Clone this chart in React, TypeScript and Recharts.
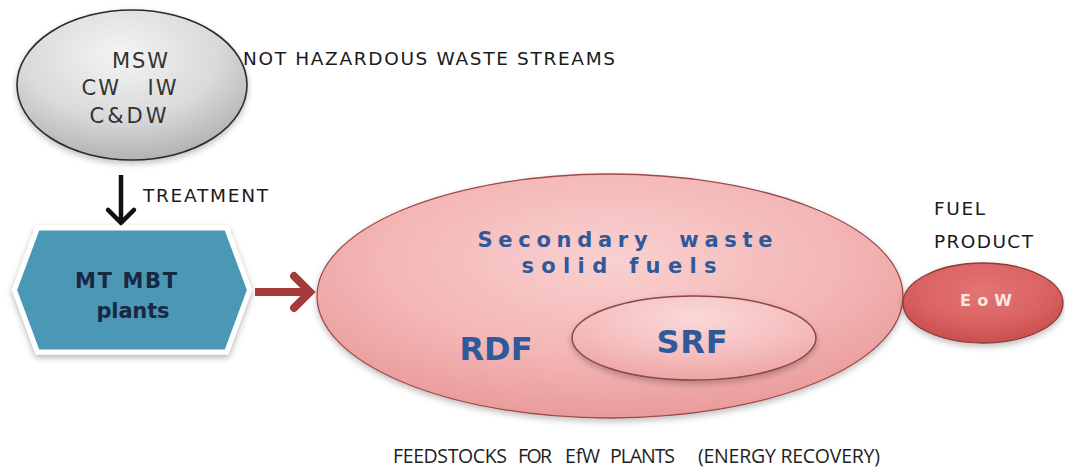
import React from 'react';
import { ScatterChart, Scatter, XAxis, YAxis } from 'recharts';

const W = 1065;
const H = 470;

// Diagram nodes (centres in diagram units; the axes map 1 unit to 1 px)
const ellipses = [
  { name: 'waste', x: 132, y: 85, rx: 115, ry: 75 },
  { name: 'feedstock', x: 610, y: 296, rx: 293, ry: 122 },
  { name: 'srf', x: 694, y: 338, rx: 122, ry: 42 },
  { name: 'eow', x: 983, y: 303, rx: 80, ry: 40 },
];

const hexagons = [{ name: 'plants', x: 132, y: 290, w: 235, h: 124, bevel: 23 }];

const arrows = [
  { name: 'treatment', x: 121, y: 175, x2: 121, y2: 225 },
  { name: 'feed', x: 255, y: 292, x2: 314, y2: 292 },
];

// Text labels: x is anchor position, y is baseline
const labels = [
  { text: 'MSW', x: 140, y: 68, kind: 'waste', len: 56 },
  { text: 'CW   IW', x: 129, y: 95, kind: 'waste', len: 95 },
  { text: 'C&DW', x: 128, y: 123, kind: 'waste', len: 77 },
  { text: 'NOT HAZARDOUS WASTE STREAMS', x: 243, y: 65, kind: 'head', len: 372 },
  { text: 'TREATMENT', x: 143, y: 202, kind: 'head', len: 125 },
  { text: 'MT MBT', x: 126, y: 288, kind: 'plant', len: 102 },
  { text: 'plants', x: 133, y: 318, kind: 'plant', len: 73 },
  { text: 'Secondary  waste', x: 625, y: 247, kind: 'fuel', len: 295 },
  { text: 'solid fuels', x: 619, y: 273, kind: 'fuel', len: 195 },
  { text: 'RDF', x: 496, y: 360, kind: 'big', len: 73 },
  { text: 'SRF', x: 692, y: 353, kind: 'big', len: 71 },
  { text: 'E o W', x: 986, y: 306, kind: 'eow', len: 52 },
  { text: 'FUEL', x: 934, y: 215, kind: 'head', len: 51 },
  { text: 'PRODUCT', x: 934, y: 248, kind: 'head', len: 99 },
  { text: 'FEEDSTOCKS', x: 393, y: 463, kind: 'note', len: 114 },
  { text: 'FOR', x: 518, y: 463, kind: 'note', len: 34 },
  { text: 'EfW', x: 565, y: 463, kind: 'note', len: 35 },
  { text: 'PLANTS', x: 610, y: 463, kind: 'note', len: 65 },
  { text: '(ENERGY RECOVERY)', x: 698, y: 463, kind: 'note', len: 182 },
];

const textStyles: Record<string, any> = {
  waste: { fontFamily: 'DejaVu Sans', fontSize: 21, fill: '#333333', anchor: 'middle', weight: 400 },
  head: { fontFamily: 'DejaVu Sans', fontSize: 18.5, fill: '#1a1a1a', anchor: 'start', weight: 400 },
  note: { fontFamily: 'Open Sans', fontSize: 19.5, fill: '#1e1e1e', anchor: 'start', weight: 400 },
  plant: { fontFamily: 'DejaVu Sans', fontSize: 21, fill: '#182840', anchor: 'middle', weight: 700 },
  fuel: { fontFamily: 'DejaVu Sans', fontSize: 21, fill: '#2e5a9b', anchor: 'middle', weight: 700 },
  big: { fontFamily: 'DejaVu Sans', fontSize: 32, fill: '#2e5a9b', anchor: 'middle', weight: 700 },
  eow: { fontFamily: 'DejaVu Sans', fontSize: 16, fill: '#fde6e6', anchor: 'middle', weight: 700 },
};

const ellipseStyles: Record<string, any> = {
  waste: { stops: ['#f4f4f4', '#dadada', '#b3b3b3'], stroke: '#2a2a2a', sw: 1.6, gcx: '45%', gcy: '30%', r: '70%' },
  feedstock: { stops: ['#f9d0d0', '#f4b6b6', '#ea9b9b'], stroke: '#9b4b4b', sw: 1.3, gcx: '50%', gcy: '35%', r: '65%' },
  srf: { stops: ['#fad8d8', '#f5bebe', '#eea4a4'], stroke: '#8a4646', sw: 1.5, gcx: '50%', gcy: '25%', r: '75%' },
  eow: { stops: ['#e47474', '#db6363', '#c94e4e'], stroke: '#8c3a3a', sw: 1.3, gcx: '50%', gcy: '35%', r: '65%' },
};

const arrowStyles: Record<string, any> = {
  treatment: { color: '#111111', sw: 4.5, head: 13 },
  feed: { color: '#a63b3b', sw: 8, head: 16 },
};

const EllipseShape = (props: any) => {
  const { cx, cy, payload } = props;
  const s = ellipseStyles[payload.name];
  const id = `grad-${payload.name}`;
  const sh = `shadow-${payload.name}`;
  return (
    <g>
      <defs>
        <radialGradient id={id} cx={s.gcx} cy={s.gcy} r={s.r}>
          <stop offset="0%" stopColor={s.stops[0]} />
          <stop offset="60%" stopColor={s.stops[1]} />
          <stop offset="100%" stopColor={s.stops[2]} />
        </radialGradient>
        <filter id={sh} x="-20%" y="-20%" width="140%" height="150%">
          <feDropShadow dx="0" dy="3" stdDeviation="3" floodColor="#000" floodOpacity="0.25" />
        </filter>
      </defs>
      <ellipse
        cx={cx}
        cy={cy}
        rx={payload.rx}
        ry={payload.ry}
        fill={`url(#${id})`}
        stroke={s.stroke}
        strokeWidth={s.sw}
        filter={`url(#${sh})`}
      />
    </g>
  );
};

const HexShape = (props: any) => {
  const { cx, cy, payload } = props;
  const hw = payload.w / 2;
  const hh = payload.h / 2;
  const b = payload.bevel;
  const pts = [
    [cx - hw, cy],
    [cx - hw + b, cy - hh],
    [cx + hw - b, cy - hh],
    [cx + hw, cy],
    [cx + hw - b, cy + hh],
    [cx - hw + b, cy + hh],
  ]
    .map((p) => p.join(','))
    .join(' ');
  return (
    <g>
      <defs>
        <filter id="hexshadow" x="-20%" y="-20%" width="140%" height="150%">
          <feDropShadow dx="0" dy="3" stdDeviation="3" floodColor="#000" floodOpacity="0.3" />
        </filter>
      </defs>
      <polygon points={pts} fill="#4b98b6" stroke="#ffffff" strokeWidth={5} strokeLinejoin="miter" filter="url(#hexshadow)" />
    </g>
  );
};

const ArrowShape = (props: any) => {
  const { cx, cy, payload } = props;
  const s = arrowStyles[payload.name];
  const ex = cx + (payload.x2 - payload.x) * (W / 1065);
  const ey = cy + (payload.y2 - payload.y) * (H / 470);
  const ang = Math.atan2(ey - cy, ex - cx);
  const hl = s.head;
  const a1 = ang + Math.PI * 0.75;
  const a2 = ang - Math.PI * 0.75;
  const tipX = ex - Math.cos(ang) * (s.sw / 2);
  const tipY = ey - Math.sin(ang) * (s.sw / 2);
  const p1 = [tipX + Math.cos(a1) * hl * 1.41, tipY + Math.sin(a1) * hl * 1.41];
  const p2 = [tipX + Math.cos(a2) * hl * 1.41, tipY + Math.sin(a2) * hl * 1.41];
  return (
    <g>
      <line x1={cx} y1={cy} x2={tipX - Math.cos(ang) * 2} y2={tipY - Math.sin(ang) * 2} stroke={s.color} strokeWidth={s.sw} />
      <polyline
        points={`${p1[0]},${p1[1]} ${tipX},${tipY} ${p2[0]},${p2[1]}`}
        fill="none"
        stroke={s.color}
        strokeWidth={s.sw}
        strokeLinejoin="miter"
        strokeLinecap="round"
      />
    </g>
  );
};

const LabelShape = (props: any) => {
  const { cx, cy, payload } = props;
  const s = textStyles[payload.kind];
  return (
    <text
      x={cx}
      y={cy}
      textAnchor={s.anchor}
      fontFamily={s.fontFamily}
      fontSize={s.fontSize}
      fontWeight={s.weight}
      fill={s.fill}
      textLength={payload.len}
      lengthAdjust="spacing"
      style={{ whiteSpace: 'pre' }}
    >
      {payload.text}
    </text>
  );
};

export default function App() {
  return (
    <div style={{ width: W, height: H, background: '#ffffff' }}>
      <style>{'body{margin:0;background:#ffffff;}'}</style>
      <ScatterChart width={W} height={H} margin={{ top: 0, right: 0, bottom: 0, left: 0 }}>
        <XAxis type="number" dataKey="x" domain={[0, 1065]} allowDataOverflow hide />
        <YAxis type="number" dataKey="y" domain={[0, 470]} allowDataOverflow reversed hide />
        <Scatter data={[ellipses[0]]} shape={EllipseShape} isAnimationActive={false} />
        <Scatter data={[arrows[0]]} shape={ArrowShape} isAnimationActive={false} />
        <Scatter data={hexagons} shape={HexShape} isAnimationActive={false} />
        <Scatter data={[arrows[1]]} shape={ArrowShape} isAnimationActive={false} />
        <Scatter data={[ellipses[1], ellipses[2]]} shape={EllipseShape} isAnimationActive={false} />
        <Scatter data={[ellipses[3]]} shape={EllipseShape} isAnimationActive={false} />
        <Scatter data={labels} shape={LabelShape} isAnimationActive={false} />
      </ScatterChart>
    </div>
  );
}
